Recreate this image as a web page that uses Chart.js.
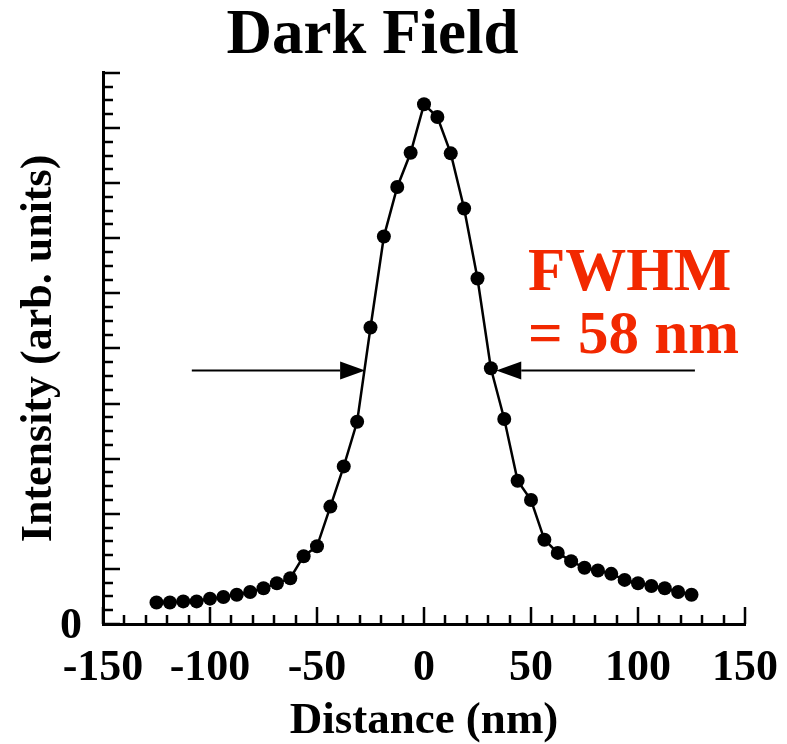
<!DOCTYPE html>
<html>
<head>
<meta charset="utf-8">
<script src="https://cdn.jsdelivr.net/npm/chart.js@4.4.1/dist/chart.umd.min.js"></script>
<style>
  html, body { margin: 0; padding: 0; background: #fff; }
  #wrap { width: 787px; height: 744px; }
</style>
</head>
<body>
<div id="wrap"><canvas id="chart" width="787" height="744"></canvas></div>
<script>
// Line profile across the feature
const distance = [-125, -118.75, -112.5, -106.25, -100, -93.75, -87.5, -81.25, -75, -68.75,
    -62.5, -56.25, -50, -43.75, -37.5, -31.25, -25, -18.75, -12.5, -6.25,
    0, 6.25, 12.5, 18.75, 25, 31.25, 37.5, 43.75, 50, 56.25,
    62.5, 68.75, 75, 81.25, 87.5, 93.75, 100, 106.25, 112.5, 118.75, 125];
const intensity = [0.39, 0.39, 0.41, 0.41, 0.46, 0.49, 0.53, 0.58, 0.65, 0.74,
    0.83, 1.23, 1.41, 2.13, 2.86, 3.67, 5.38, 7.03, 7.93, 8.55,
    9.43, 9.20, 8.54, 7.54, 6.27, 4.64, 3.72, 2.60, 2.25, 1.53,
    1.29, 1.14, 1.02, 0.97, 0.91, 0.80, 0.74, 0.69, 0.65, 0.58, 0.53];

// FWHM markers (nm) and the level they sit at
const fwhmLevel = 4.6;
const fwhmEdges = [-27.5, 30.5];
const fwhmTails = [-108.5, 126.6];
const fwhmLines = ['FWHM', '= 58 nm'];

const SERIF = '"Liberation Serif", "Times New Roman", serif';

// ticks drawn inward from the axes
const innerTicks = {
    id: 'innerTicks',
    beforeDatasetsDraw(chart) {
        const { ctx, chartArea: ca, scales: { x, y } } = chart;
        ctx.save();
        ctx.strokeStyle = '#000';
        ctx.lineWidth = 2.5;
        ctx.beginPath();
        for (let v = -150; v <= 150; v += 10) {
            const px = Math.round(x.getPixelForValue(v));
            const len = v % 50 === 0 ? 17 : 9;
            ctx.moveTo(px, ca.bottom);
            ctx.lineTo(px, ca.bottom - len);
        }
        for (let i = 0; i <= 40; i++) {
            const py = Math.round(y.getPixelForValue(i / 4));
            const len = i % 4 === 0 ? 17 : 10;
            ctx.moveTo(ca.left, py);
            ctx.lineTo(ca.left + len, py);
        }
        ctx.stroke();
        ctx.restore();
    }
};

function arrow(ctx, fromX, tipX, yPx) {
    const dir = Math.sign(tipX - fromX);
    const head = 25, half = 9;
    ctx.beginPath();
    ctx.moveTo(fromX, yPx);
    ctx.lineTo(tipX - dir * head, yPx);
    ctx.stroke();
    ctx.beginPath();
    ctx.moveTo(tipX, yPx);
    ctx.lineTo(tipX - dir * head, yPx - half);
    ctx.lineTo(tipX - dir * head, yPx + half);
    ctx.closePath();
    ctx.fill();
}

const fwhmMarks = {
    id: 'fwhmMarks',
    afterDatasetsDraw(chart) {
        const { ctx, scales: { x, y } } = chart;
        const yPx = y.getPixelForValue(fwhmLevel);
        const markerR = chart.data.datasets[0].pointRadius;
        ctx.save();
        ctx.strokeStyle = '#000';
        ctx.fillStyle = '#000';
        ctx.lineWidth = 2;
        arrow(ctx, x.getPixelForValue(fwhmTails[0]), x.getPixelForValue(fwhmEdges[0]), yPx);
        arrow(ctx, x.getPixelForValue(fwhmTails[1]), x.getPixelForValue(fwhmEdges[1]) + markerR, yPx);

        ctx.fillStyle = '#f22800';
        ctx.font = 'bold 61px ' + SERIF;
        ctx.textAlign = 'left';
        ctx.textBaseline = 'alphabetic';
        const tx = x.getPixelForValue(48.6);
        ctx.fillText(fwhmLines[0], tx, y.getPixelForValue(6.06));
        ctx.fillText(fwhmLines[1], tx, y.getPixelForValue(4.92));
        ctx.restore();
    }
};

new Chart(document.getElementById('chart'), {
    type: 'line',
    data: {
        labels: distance,
        datasets: [{
            data: distance.map((d, i) => ({ x: d, y: intensity[i] })),
            borderColor: '#000',
            borderWidth: 2.5,
            tension: 0,
            pointRadius: 7,
            pointBackgroundColor: '#000',
            pointBorderWidth: 0,
            pointHoverRadius: 7
        }]
    },
    options: {
        responsive: false,
        animation: false,
        events: [],
        layout: { autoPadding: false, padding: { left: 0, right: 42, top: 0, bottom: 0 } },
        plugins: {
            legend: { display: false },
            tooltip: { enabled: false },
            title: {
                display: true,
                text: 'Dark Field',
                color: '#000',
                font: { family: SERIF, size: 63, weight: 'bold', lineHeight: 1.03 },
                padding: { top: 4, bottom: 4 }
            }
        },
        scales: {
            x: {
                type: 'linear',
                min: -150,
                max: 150,
                afterFit(s) {
                    s.height = 120;
                    s.paddingLeft = 0;
                    s.paddingRight = 0;
                },
                grid: { display: false, drawTicks: false },
                border: { display: true, color: '#000', width: 3 },
                ticks: {
                    stepSize: 50,
                    color: '#000',
                    padding: 18,
                    maxRotation: 0,
                    font: { family: SERIF, size: 44, weight: 'bold' }
                },
                title: {
                    display: true,
                    text: 'Distance (nm)',
                    color: '#000',
                    padding: { top: 0, bottom: 0 },
                    font: { family: SERIF, size: 45, weight: 'bold', lineHeight: 1 }
                }
            },
            y: {
                min: 0,
                max: 10,
                afterFit(s) {
                    s.width = 103;
                    s.paddingTop = 0;
                    s.paddingBottom = 0;
                },
                grid: { display: false, drawTicks: false },
                border: { display: true, color: '#000', width: 3 },
                ticks: {
                    stepSize: 1,
                    color: '#000',
                    padding: 21,
                    labelOffset: 3,
                    callback: v => (v === 0 ? '0' : ''),
                    font: { family: SERIF, size: 44, weight: 'bold' }
                },
                title: {
                    display: true,
                    text: 'Intensity (arb. units)',
                    color: '#000',
                    padding: { top: 18, bottom: 0 },
                    font: { family: SERIF, size: 44, weight: 'bold', lineHeight: 1 }
                }
            }
        }
    },
    plugins: [innerTicks, fwhmMarks]
});
</script>
</body>
</html>
